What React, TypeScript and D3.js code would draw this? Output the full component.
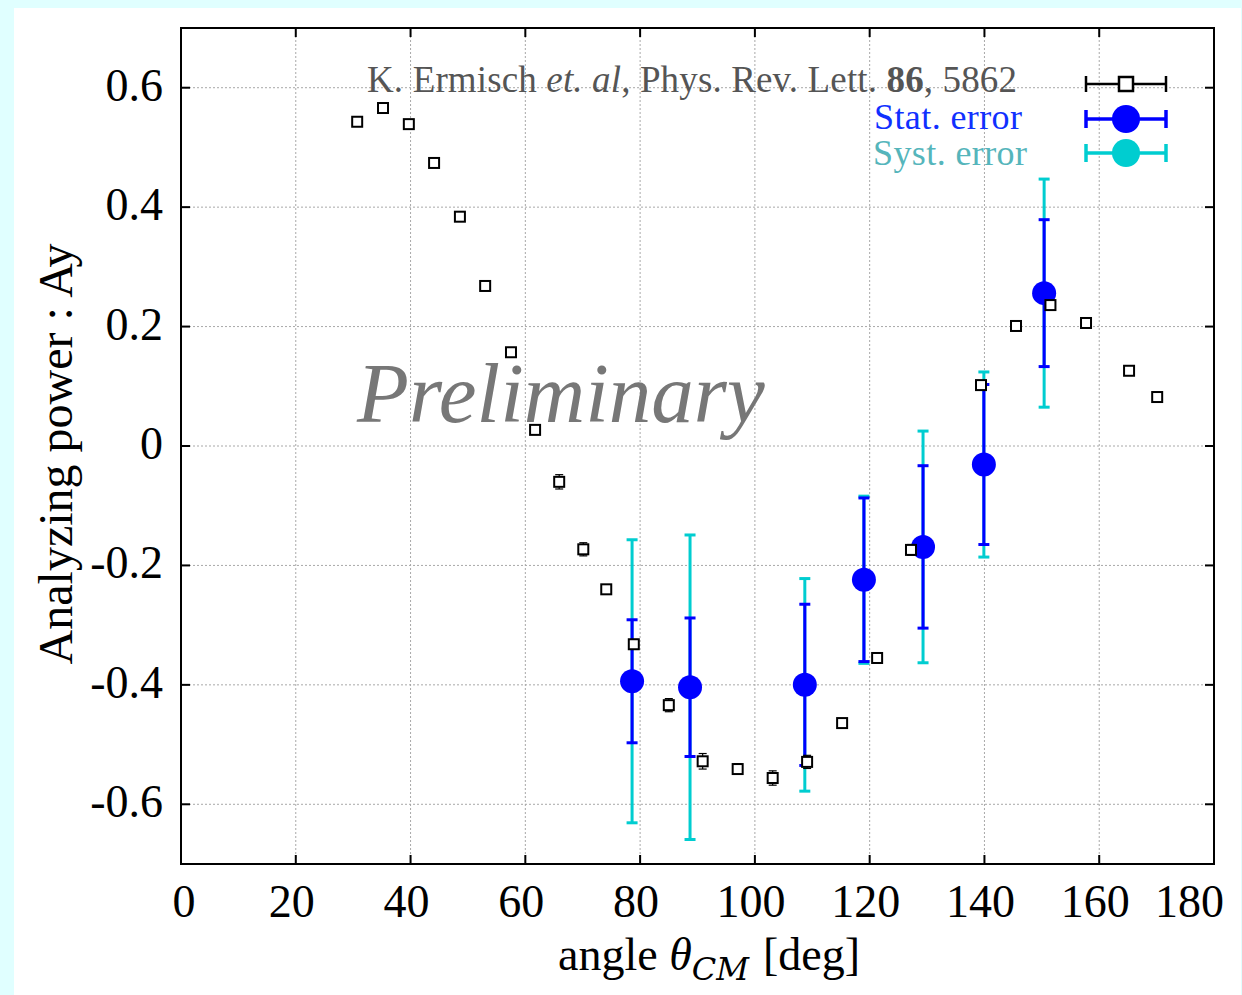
import React from "react";
import * as d3 from "d3";

// Reference data: K. Ermisch et al., PRL 86, 5862
const ermAngle = [30.7, 35.2, 39.7, 44.1, 48.6, 53.0, 57.5, 61.7, 65.9, 70.1, 74.1, 78.9, 85.0, 90.9, 97.0, 103.1, 109.1, 115.2, 121.3, 127.2, 139.4, 145.5, 151.5, 157.7, 165.2, 170.1];
const ermAy = [0.543, 0.566, 0.539, 0.474, 0.384, 0.268, 0.157, 0.027, -0.060, -0.173, -0.240, -0.332, -0.434, -0.528, -0.541, -0.556, -0.529, -0.464, -0.355, -0.174, 0.102, 0.201, 0.236, 0.206, 0.126, 0.082];
const ermErr = [0.006, 0.006, 0.006, 0.006, 0.006, 0.006, 0.006, 0.006, 0.012, 0.011, 0.006, 0.008, 0.011, 0.013, 0.009, 0.012, 0.011, 0.006, 0.008, 0.009, 0.006, 0.006, 0.006, 0.006, 0.006, 0.006];

// This measurement
const angle = [78.6, 88.7, 108.7, 119.0, 129.3, 139.9, 150.4];
const ay = [-0.394, -0.404, -0.400, -0.224, -0.169, -0.031, 0.256];
const statErr = [0.103, 0.116, 0.135, 0.137, 0.136, 0.134, 0.123];
const systErr = [0.237, 0.255, 0.178, 0.140, 0.194, 0.155, 0.191];

const xTicks = [0, 20, 40, 60, 80, 100, 120, 140, 160, 180];
const yTicks = [-0.6, -0.4, -0.2, 0, 0.2, 0.4, 0.6];
const yTickLabels = ["-0.6", "-0.4", "-0.2", "0", "0.2", "0.4", "0.6"];

const W = 1242;
const H = 995;
const M = { left: 181, right: 1214, top: 28, bottom: 864 };
const FONT = "'Liberation Serif', 'Times New Roman', 'DejaVu Serif', serif";
const BLUE = "#0000ff";
const CYAN = "#00cdd0";

export default function App() {
  const x = d3.scaleLinear().domain([0, 180]).range([M.left, M.right]);
  const y = d3.scaleLinear().domain([-0.7, 0.7]).range([M.bottom, M.top]);
  const cap = 5.5;
  const tick = 9;

  const errBar = (cx: number, lo: number, hi: number, color: string, w: number, c: number, key: string) => (
    <g key={key} stroke={color} strokeWidth={w} fill="none">
      <line x1={cx} x2={cx} y1={y(lo)} y2={y(hi)} />
      <line x1={cx - c} x2={cx + c} y1={y(lo)} y2={y(lo)} />
      <line x1={cx - c} x2={cx + c} y1={y(hi)} y2={y(hi)} />
    </g>
  );

  const xLabelX = (t: number, i: number) => {
    if (i === 0) return x(t) + 3;
    if (i === xTicks.length - 1) return x(t) + 10;
    return x(t) - 4;
  };

  return (
    <svg width={W} height={H} style={{ position: "absolute", left: 0, top: 0 }} fontFamily={FONT}>
      <rect x={0} y={0} width={W} height={H} fill="#e0ffff" />
      <rect x={14} y={8} width={1227} height={H - 8} fill="#ffffff" />

      {/* grid */}
      <g stroke="#a8a8a8" strokeWidth={1} strokeDasharray="2,2">
        {xTicks.slice(1, -1).map((t) => (
          <line key={"gx" + t} x1={x(t)} x2={x(t)} y1={M.top} y2={M.bottom} />
        ))}
        {yTicks.map((t) => (
          <line key={"gy" + t} x1={M.left} x2={M.right} y1={y(t)} y2={y(t)} />
        ))}
      </g>

      {/* Preliminary watermark */}
      <text x={357} y={422} fontSize={85} fontStyle="italic" fill="#777777">
        Preliminary
      </text>

      {/* ticks */}
      <g stroke="#000" strokeWidth={2}>
        {xTicks.slice(1, -1).map((t) => (
          <g key={"tx" + t}>
            <line x1={x(t)} x2={x(t)} y1={M.bottom} y2={M.bottom - tick} />
            <line x1={x(t)} x2={x(t)} y1={M.top} y2={M.top + tick} />
          </g>
        ))}
        {yTicks.map((t) => (
          <g key={"ty" + t}>
            <line x1={M.left} x2={M.left + tick} y1={y(t)} y2={y(t)} />
            <line x1={M.right} x2={M.right - tick} y1={y(t)} y2={y(t)} />
          </g>
        ))}
      </g>

      {/* tick labels */}
      <g fontSize={46} fill="#000">
        {xTicks.map((t, i) => (
          <text key={"lx" + t} x={xLabelX(t, i)} y={917} textAnchor={i === xTicks.length - 1 ? "end" : "middle"}>
            {String(t)}
          </text>
        ))}
        {yTicks.map((t, i) => (
          <text key={"ly" + t} x={163} y={y(t) + 13} textAnchor="end">
            {yTickLabels[i]}
          </text>
        ))}
      </g>

      {/* axis titles */}
      <text x={558} y={970} fontSize={46} fill="#000">
        angle{" "}
        <tspan fontStyle="italic">θ</tspan>
        <tspan fontStyle="italic" fontSize={32} dy={10} fontFamily="'DejaVu Serif', serif">CM</tspan>
        <tspan dy={-10} dx={14}>[deg]</tspan>
      </text>
      <text transform="translate(72,454) rotate(-90)" textAnchor="middle" fontSize={48} fill="#000">
        Analyzing power : Ay
      </text>

      {/* systematic (total) errors */}
      {angle.map((a, i) => errBar(x(a), ay[i] - systErr[i], ay[i] + systErr[i], CYAN, 3, cap, "sy" + i))}
      {/* statistical errors */}
      {angle.map((a, i) => errBar(x(a), ay[i] - statErr[i], ay[i] + statErr[i], BLUE, 3, cap, "st" + i))}
      {angle.map((a, i) => (
        <circle key={"c" + i} cx={x(a)} cy={y(ay[i])} r={12} fill={BLUE} />
      ))}

      {/* Ermisch et al. */}
      {ermAngle.map((a, i) => errBar(x(a), ermAy[i] - ermErr[i], ermAy[i] + ermErr[i], "#000", 1.2, 4, "ee" + i))}
      {ermAngle.map((a, i) => (
        <rect key={"s" + i} x={x(a) - 5} y={y(ermAy[i]) - 5} width={10} height={10} fill="#fff" stroke="#000" strokeWidth={2} />
      ))}

      {/* frame */}
      <rect x={M.left} y={M.top} width={M.right - M.left} height={M.bottom - M.top} fill="none" stroke="#000" strokeWidth={2} />

      {/* legend */}
      <text x={367} y={92} fontSize={37} fill="#555555" textLength={650} lengthAdjust="spacing">
        K. Ermisch <tspan fontStyle="italic">et. al</tspan>, Phys. Rev. Lett. <tspan fontWeight="bold">86</tspan>, 5862
      </text>
      <text x={1022} y={129} fontSize={36} fill="#1030ff" textAnchor="end" textLength={148} lengthAdjust="spacing">
        Stat. error
      </text>
      <text x={1027} y={165} fontSize={36} fill="#55b5bb" textAnchor="end" textLength={154} lengthAdjust="spacing">
        Syst. error
      </text>

      <g stroke="#000" strokeWidth={2.5}>
        <line x1={1086} x2={1166} y1={84} y2={84} />
        <line x1={1086} x2={1086} y1={76} y2={92} />
        <line x1={1166} x2={1166} y1={76} y2={92} />
        <rect x={1119} y={77} width={14} height={14} fill="#fff" />
      </g>
      <g stroke={BLUE} strokeWidth={3.5}>
        <line x1={1086} x2={1166} y1={119} y2={119} />
        <line x1={1086} x2={1086} y1={110} y2={128} />
        <line x1={1166} x2={1166} y1={110} y2={128} />
      </g>
      <circle cx={1126} cy={119} r={14} fill={BLUE} />
      <g stroke={CYAN} strokeWidth={3.5}>
        <line x1={1086} x2={1166} y1={153} y2={153} />
        <line x1={1086} x2={1086} y1={144} y2={162} />
        <line x1={1166} x2={1166} y1={144} y2={162} />
      </g>
      <circle cx={1126} cy={153} r={14} fill={CYAN} />
    </svg>
  );
}
